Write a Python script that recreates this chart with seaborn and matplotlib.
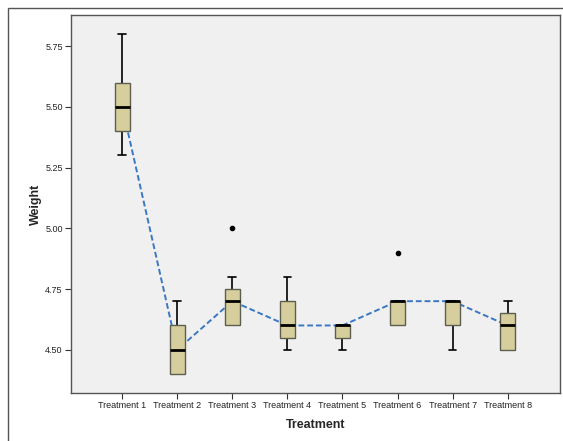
import numpy as np
import pandas as pd
import seaborn as sns
import matplotlib.pyplot as plt
from matplotlib.patches import Rectangle

sns.set_style('white')
plt.rcParams['font.family'] = ['Liberation Sans', 'DejaVu Sans']

treatments = ['Treatment %d' % i for i in range(1, 9)]
t1 = [5.3, 5.4, 5.5, 5.6, 5.8]
t2 = [4.4, 4.4, 4.5, 4.6, 4.7]
t3 = [4.6, 4.6, 4.6, 4.65, 4.7, 4.75, 4.75, 4.8, 5.0]
t4 = [4.5, 4.55, 4.6, 4.7, 4.8]
t5 = [4.5, 4.55, 4.6, 4.6, 4.6]
t6 = [4.6, 4.6, 4.7, 4.7, 4.9]
t7 = [4.5, 4.6, 4.7, 4.7, 4.7]
t8 = [4.5, 4.5, 4.6, 4.65, 4.7]
yticks = [4.50, 4.75, 5.00, 5.25, 5.50, 5.75]

groups = [t1, t2, t3, t4, t5, t6, t7, t8]
df = pd.DataFrame({
    'Treatment': [t for t, g in zip(treatments, groups) for _ in g],
    'Weight': [v for g in groups for v in g],
})

fig = plt.figure(figsize=(5.63, 4.41), dpi=100)
ax = fig.add_axes([71 / 563, 1 - 393 / 441, (560 - 71) / 563, (393 - 15) / 441])
ax.set_facecolor('#F0F0F0')

# dashed line through medians, under the boxes
sns.pointplot(data=df, x='Treatment', y='Weight', order=treatments,
              estimator='median', errorbar=None, color='#3A78C4',
              linestyle='--', marker='', linewidth=1.4, ax=ax)
for l in ax.lines:
    l.set_zorder(1)
    l.set_dashes([3, 1.5])

sns.boxplot(data=df, x='Treatment', y='Weight', order=treatments,
            width=0.28, color='#D6CF9D', saturation=1, linecolor='black',
            linewidth=1, fliersize=3, ax=ax,
            boxprops=dict(edgecolor='#5E5E50', zorder=2),
            medianprops=dict(color='black', linewidth=2, zorder=3),
            whiskerprops=dict(color='black', linewidth=1.2, zorder=1.5),
            capprops=dict(color='black', linewidth=1.2, zorder=1.5),
            flierprops=dict(marker='o', markerfacecolor='black',
                            markeredgecolor='black', markersize=3))

ax.set_xlim(-0.93, 7.95)
ax.set_ylim(4.322, 5.878)
ax.set_yticks(yticks)
ax.set_yticklabels(['%.2f' % v for v in yticks])
ax.tick_params(axis='both', length=4, width=0.8, color='#333333',
               labelsize=6.5, labelcolor='#222222', pad=2, left=True, bottom=True)
ax.set_xlabel('Treatment', fontsize=9, fontweight='bold', labelpad=6)
ax.set_ylabel('Weight', fontsize=9, fontweight='bold', labelpad=2)
for s in ax.spines.values():
    s.set_color('#555555')
    s.set_linewidth(1)

# outer chart frame
fig.add_artist(Rectangle((8 / 563, -0.1), 1.2, 1 - 8 / 441 + 0.1,
                         transform=fig.transFigure, fill=False,
                         edgecolor='#555555', linewidth=1))

fig.savefig('out.png', dpi=100)
